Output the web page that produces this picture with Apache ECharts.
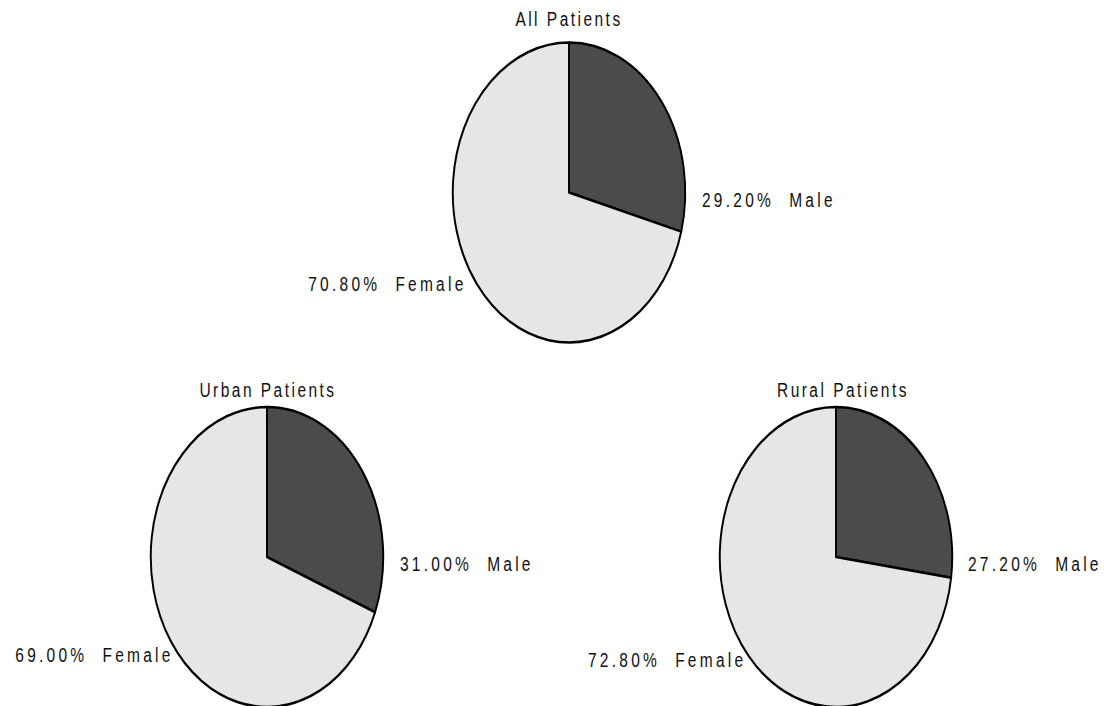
<!DOCTYPE html>
<html>
<head>
<meta charset="utf-8">
<script src="https://cdn.jsdelivr.net/npm/echarts@6/dist/echarts.min.js"></script>
<style>
  html, body { margin: 0; padding: 0; background: #ffffff; overflow: hidden; }
  #wrap { position: absolute; left: 0; top: 0; width: 1104px; height: 706px; overflow: hidden; }
  /* pies are drawn as circles, then the whole drawing is narrowed into ellipses */
  #chart { position: absolute; left: 0; top: 0; width: 1424.5px; height: 706px;
           transform: scaleX(0.775); transform-origin: 0 0; }
  #chart svg text { letter-spacing: 4.2px; }
  #chart svg text.ttl { letter-spacing: 3.2px; }
</style>
</head>
<body>
<div id="wrap"><div id="chart"></div></div>
<script>
// Gender split of patients (percent)
const groups = ['All Patients', 'Urban Patients', 'Rural Patients'];
const sexes = ['Male', 'Female'];
const malePct = [29.2, 31.0, 27.2];
const femalePct = [70.8, 69.0, 72.8];
const sliceColors = ['#4b4b4b', '#e6e6e6'];

// pie placement (unscaled drawing coordinates)
const centers = [[734.2, 192.5], [344.5, 557], [1078.7, 557]];
const pieRadius = 150;
const titlePos = [[734.2, 19.5], [345.8, 390], [1087.7, 390]];
const maleLabelPos = [[905.8, 200], [516.1, 564], [1249, 564]];
const femaleLabelPos = [[602, 284], [224, 655], [963, 660.5]];

const textFont = '20px "Liberation Sans", Arial, sans-serif';
const textColor = '#111111';

const chart = echarts.init(document.getElementById('chart'), null, { renderer: 'svg' });

const series = groups.map((g, i) => ({
  type: 'pie',
  name: g,
  center: centers[i],
  radius: pieRadius,
  startAngle: 90,
  clockwise: true,
  silent: true,
  animation: false,
  label: { show: false },
  labelLine: { show: false },
  itemStyle: { borderColor: '#000000', borderWidth: 2.5 },
  data: [
    { name: sexes[0], value: malePct[i], itemStyle: { color: sliceColors[0] } },
    { name: sexes[1], value: femalePct[i], itemStyle: { color: sliceColors[1] } }
  ]
}));

const pct = v => v.toFixed(2) + '%\u00a0\u00a0';
const graphics = [];
groups.forEach((g, i) => {
  graphics.push({
    type: 'text', id: 'ttl' + i, x: titlePos[i][0], y: titlePos[i][1], silent: true,
    style: { text: g, font: textFont, fill: textColor, textAlign: 'center', textVerticalAlign: 'middle' }
  });
  graphics.push({
    type: 'text', x: maleLabelPos[i][0], y: maleLabelPos[i][1], silent: true,
    style: { text: pct(malePct[i]) + sexes[0], font: textFont, fill: textColor, textAlign: 'left', textVerticalAlign: 'middle' }
  });
  graphics.push({
    type: 'text', x: femaleLabelPos[i][0], y: femaleLabelPos[i][1], silent: true,
    style: { text: pct(femalePct[i]) + sexes[1], font: textFont, fill: textColor, textAlign: 'right', textVerticalAlign: 'middle' }
  });
});

chart.setOption({
  backgroundColor: '#ffffff',
  animation: false,
  series: series,
  graphic: graphics
});

// group titles get slightly tighter tracking than the slice labels
chart.on('finished', () => {
  document.querySelectorAll('#chart svg text').forEach(t => {
    if (groups.indexOf(t.textContent) >= 0) t.classList.add('ttl');
  });
});
document.querySelectorAll('#chart svg text').forEach(t => {
  if (groups.indexOf(t.textContent) >= 0) t.classList.add('ttl');
});
</script>
</body>
</html>
